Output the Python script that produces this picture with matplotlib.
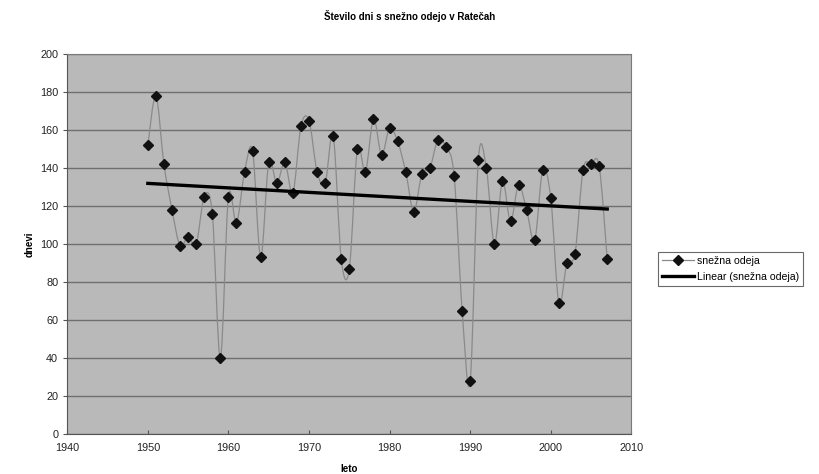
import numpy as np
import matplotlib
matplotlib.use("Agg")
import matplotlib.pyplot as plt
from matplotlib.path import Path
from matplotlib.patches import PathPatch
from matplotlib.lines import Line2D

plt.rcParams['font.family'] = ['Liberation Sans', 'DejaVu Sans']

years = list(range(1950, 2008))
days = [152, 178, 142, 118, 99, 104, 100, 125, 116, 40,
        125, 111, 138, 149, 93, 143, 132, 143, 127, 162,
        165, 138, 132, 157, 92, 87, 150, 138, 166, 147,
        161, 154, 138, 117, 137, 140, 155, 151, 136, 65,
        28, 144, 140, 100, 133, 112, 131, 118, 102, 139,
        124, 69, 90, 95, 139, 142, 141, 92]

title = "Število dni s snežno odejo v Ratečah"
series_label = "snežna odeja"
trend_label = "Linear (snežna odeja)"


def smooth_path(x, y):
    # Catmull-Rom style bezier, like Excel's smoothed line
    x = np.asarray(x, float)
    y = np.asarray(y, float)
    verts = [(x[0], y[0])]
    codes = [Path.MOVETO]
    n = len(x)
    for i in range(n - 1):
        x0, y0 = (x[i - 1], y[i - 1]) if i > 0 else (x[i], y[i])
        x3, y3 = (x[i + 2], y[i + 2]) if i + 2 < n else (x[i + 1], y[i + 1])
        c1 = (x[i] + (x[i + 1] - x0) / 6, y[i] + (y[i + 1] - y0) / 6)
        c2 = (x[i + 1] - (x3 - x[i]) / 6, y[i + 1] - (y3 - y[i]) / 6)
        verts += [c1, c2, (x[i + 1], y[i + 1])]
        codes += [Path.CURVE4] * 3
    return Path(verts, codes)


fig = plt.figure(figsize=(8.2, 4.74), dpi=100)
ax = fig.add_axes([0.082, 0.084, 0.688, 0.802])
ax.set_facecolor('#b9b9b9')

ax.add_patch(PathPatch(smooth_path(years, days), facecolor='none',
                       edgecolor='#8a8a8a', lw=0.9, zorder=2))
ax.plot(years, days, linestyle='none', marker='D', markersize=5,
        color='#111111', zorder=3)

coef = np.polyfit(years, days, 1)
tx = np.array([years[0], years[-1]])
ax.plot(tx, np.polyval(coef, tx), color='black', lw=2.4, zorder=4)

ax.set_xlim(1940, 2010)
ax.set_ylim(0, 200)
ax.set_xticks(range(1940, 2011, 10))
ax.set_yticks(range(0, 201, 20))
ax.yaxis.grid(True, color='#6f6f6f', lw=1.0)
ax.set_axisbelow(True)
for s in ax.spines.values():
    s.set_color('#7a7a7a')
ax.spines['bottom'].set_color('#555555')
ax.spines['left'].set_color('#555555')
ax.tick_params(axis='both', labelsize=7.8, colors='#555555', labelcolor='#222222', length=3)
ax.tick_params(axis='x', direction='in', pad=6)

ax.set_xlabel('leto', fontsize=7, fontweight='bold', labelpad=8)
ax.set_ylabel('dnevi', fontsize=7, fontweight='bold', labelpad=4)
fig.text(0.5, 0.967, title, ha='center', va='center', fontsize=7, fontweight='bold')

handles = [Line2D([0], [0], color='#8a8a8a', lw=0.9, marker='D', markersize=5,
                  markerfacecolor='#111111', markeredgecolor='#111111'),
           Line2D([0], [0], color='black', lw=2.4)]
leg = fig.legend(handles, [series_label, trend_label], loc='center left',
                 bbox_to_anchor=(0.796, 0.433), fontsize=7.6, frameon=True,
                 fancybox=False, edgecolor='#444444', handlelength=3.0,
                 borderpad=0.4, labelspacing=0.55, handletextpad=0.3)
leg.get_frame().set_linewidth(0.8)

fig.savefig('out.png', dpi=100)
